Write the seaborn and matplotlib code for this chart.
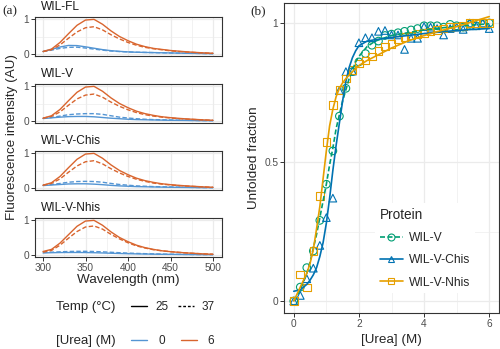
import numpy as np
import pandas as pd
import matplotlib
matplotlib.use("Agg")
import matplotlib.pyplot as plt
from matplotlib.lines import Line2D
from matplotlib.ticker import FixedLocator
import seaborn as sns

sns.set_theme(style="white")
plt.rcParams['font.family'] = ['Liberation Sans', 'DejaVu Sans']

# ---------------- Data: panel (a) spectra ----------------
wavelength = [300, 310, 320, 330, 340, 350, 360, 370, 380, 390, 400,
              410, 420, 430, 440, 450, 460, 470, 480, 490, 500]

fl_0_25 = [0.07, 0.13, 0.20, 0.245, 0.24, 0.205, 0.165, 0.125, 0.095, 0.075, 0.06,
           0.05, 0.045, 0.04, 0.035, 0.03, 0.025, 0.02, 0.017, 0.013, 0.01]
fl_0_37 = [0.07, 0.11, 0.16, 0.19, 0.195, 0.17, 0.14, 0.11, 0.085, 0.07, 0.06,
           0.05, 0.045, 0.04, 0.035, 0.03, 0.025, 0.02, 0.017, 0.013, 0.01]
fl_6_25 = [0.07, 0.14, 0.33, 0.58, 0.82, 0.97, 0.99, 0.85, 0.66, 0.50, 0.38,
           0.28, 0.21, 0.16, 0.13, 0.10, 0.08, 0.06, 0.045, 0.03, 0.02]
fl_6_37 = [0.07, 0.12, 0.26, 0.45, 0.63, 0.75, 0.78, 0.69, 0.55, 0.43, 0.33,
           0.25, 0.19, 0.15, 0.12, 0.09, 0.07, 0.055, 0.04, 0.03, 0.02]

v_0_25 = [0.07, 0.09, 0.11, 0.125, 0.13, 0.13, 0.12, 0.10, 0.08, 0.065, 0.05,
          0.04, 0.035, 0.03, 0.025, 0.02, 0.018, 0.015, 0.012, 0.01, 0.01]
v_0_37 = [0.08, 0.10, 0.14, 0.18, 0.20, 0.21, 0.21, 0.19, 0.15, 0.11, 0.085,
          0.065, 0.05, 0.04, 0.035, 0.03, 0.025, 0.02, 0.015, 0.012, 0.01]
v_6_25 = [0.08, 0.15, 0.33, 0.58, 0.82, 0.97, 0.99, 0.85, 0.66, 0.50, 0.38,
          0.28, 0.21, 0.16, 0.12, 0.095, 0.075, 0.058, 0.044, 0.03, 0.02]
v_6_37 = [0.08, 0.13, 0.26, 0.45, 0.63, 0.74, 0.77, 0.68, 0.54, 0.42, 0.32,
          0.24, 0.18, 0.14, 0.11, 0.085, 0.067, 0.052, 0.04, 0.03, 0.02]

chis_0_25 = [0.07, 0.085, 0.10, 0.115, 0.12, 0.12, 0.11, 0.095, 0.075, 0.06, 0.05,
             0.04, 0.035, 0.03, 0.025, 0.02, 0.018, 0.015, 0.012, 0.01, 0.01]
chis_0_37 = [0.08, 0.10, 0.13, 0.165, 0.185, 0.19, 0.185, 0.165, 0.13, 0.10, 0.08,
             0.06, 0.05, 0.04, 0.035, 0.03, 0.025, 0.02, 0.015, 0.012, 0.01]
chis_6_25 = [0.08, 0.15, 0.33, 0.58, 0.82, 0.97, 0.99, 0.85, 0.66, 0.50, 0.38,
             0.28, 0.21, 0.16, 0.12, 0.095, 0.075, 0.058, 0.044, 0.03, 0.02]
chis_6_37 = [0.08, 0.13, 0.26, 0.45, 0.63, 0.75, 0.78, 0.69, 0.55, 0.43, 0.33,
             0.25, 0.19, 0.14, 0.11, 0.087, 0.068, 0.053, 0.04, 0.03, 0.02]

nhis_0_25 = [0.06, 0.065, 0.07, 0.072, 0.072, 0.07, 0.065, 0.058, 0.05, 0.043, 0.037,
             0.032, 0.028, 0.024, 0.02, 0.018, 0.016, 0.014, 0.012, 0.01, 0.01]
nhis_0_37 = [0.07, 0.08, 0.09, 0.10, 0.105, 0.105, 0.10, 0.09, 0.078, 0.065, 0.055,
             0.045, 0.038, 0.032, 0.027, 0.022, 0.019, 0.016, 0.013, 0.011, 0.01]
nhis_6_25 = [0.10, 0.16, 0.34, 0.58, 0.82, 0.97, 0.99, 0.85, 0.66, 0.50, 0.38,
             0.28, 0.21, 0.16, 0.12, 0.095, 0.075, 0.058, 0.044, 0.03, 0.02]
nhis_6_37 = [0.08, 0.13, 0.28, 0.48, 0.67, 0.80, 0.83, 0.74, 0.59, 0.46, 0.35,
             0.26, 0.20, 0.15, 0.12, 0.095, 0.075, 0.057, 0.043, 0.032, 0.022]

proteins_a = ["WIL-FL", "WIL-V", "WIL-V-Chis", "WIL-V-Nhis"]
spectra = {
    "WIL-FL": {("0", "25"): fl_0_25, ("0", "37"): fl_0_37, ("6", "25"): fl_6_25, ("6", "37"): fl_6_37},
    "WIL-V": {("0", "25"): v_0_25, ("0", "37"): v_0_37, ("6", "25"): v_6_25, ("6", "37"): v_6_37},
    "WIL-V-Chis": {("0", "25"): chis_0_25, ("0", "37"): chis_0_37, ("6", "25"): chis_6_25, ("6", "37"): chis_6_37},
    "WIL-V-Nhis": {("0", "25"): nhis_0_25, ("0", "37"): nhis_0_37, ("6", "25"): nhis_6_25, ("6", "37"): nhis_6_37},
}

# ---------------- Data: panel (b) denaturation ----------------
urea_pts = [0.0, 0.2, 0.4, 0.6, 0.8, 1.0, 1.2, 1.4, 1.6, 1.8, 2.0, 2.2, 2.4, 2.6, 2.8, 3.0,
            3.2, 3.4, 3.6, 3.8, 4.0, 4.2, 4.4, 4.6, 4.8, 5.0, 5.2, 5.4, 5.6, 5.8, 6.0]
wilv_pts = [0.0, 0.05, 0.12, 0.18, 0.29, 0.42, 0.54, 0.665, 0.765, 0.825, 0.86, 0.89, 0.92, 0.935,
            0.955, 0.96, 0.965, 0.97, 0.975, 0.98, 0.99, 0.99, 0.99, 0.985, 0.995, 0.99, 0.985,
            0.995, 0.99, 0.995, 1.0]
chis_pts = [0.0, 0.02, 0.08, 0.118, 0.20, 0.30, 0.37, 0.757, 0.825, 0.827, 0.929, 0.947, 0.947,
            0.97, 0.973, 0.957, 0.957, 0.905, 0.945, 0.945, 0.987, 0.985, 0.98, 0.957, 0.98,
            0.985, 0.977, 1.0, 0.99, 1.0, 0.98]
nhis_pts = [0.0, 0.096, 0.048, 0.18, 0.377, 0.573, 0.705, 0.76, 0.80, 0.83, 0.855, 0.865, 0.88,
            0.90, 0.915, 0.925, 0.94, 0.95, 0.955, 0.96, 0.963, 0.97, 0.975, 0.98, 0.985, 0.987,
            0.99, 1.0, 1.0, 1.0, 1.0]

fit_urea = [0.0, 0.2, 0.4, 0.5, 0.6, 0.7, 0.8, 0.9, 1.0, 1.1, 1.2, 1.3, 1.4, 1.5, 1.6, 1.7,
            1.8, 1.9, 2.0, 2.25, 2.5, 3.0, 3.5, 4.0, 4.5, 5.0, 5.5, 6.0]
wilv_fit = [0.0, 0.04, 0.10, 0.14, 0.19, 0.24, 0.30, 0.36, 0.42, 0.49, 0.55, 0.62, 0.67, 0.72,
            0.76, 0.80, 0.83, 0.86, 0.88, 0.915, 0.935, 0.955, 0.965, 0.975, 0.982, 0.988,
            0.993, 0.997]
chis_fit = [0.035, 0.04, 0.06, 0.075, 0.094, 0.12, 0.16, 0.21, 0.28, 0.37, 0.47, 0.56, 0.64,
            0.72, 0.79, 0.84, 0.875, 0.90, 0.918, 0.935, 0.94, 0.948, 0.955, 0.962, 0.968,
            0.973, 0.977, 0.98]
nhis_fit = [0.0, 0.05, 0.10, 0.135, 0.185, 0.26, 0.34, 0.44, 0.54, 0.63, 0.69, 0.735, 0.765,
            0.785, 0.80, 0.813, 0.825, 0.836, 0.847, 0.865, 0.88, 0.91, 0.935, 0.955, 0.972,
            0.987, 1.005, 1.023]

proteins_b = ["WIL-V", "WIL-V-Chis", "WIL-V-Nhis"]

# ---------------- Styling constants ----------------
BLUE_A, ORANGE_A = "#5495D3", "#D9652E"
COLS_B = {"WIL-V": "#009E73", "WIL-V-Chis": "#0072B2", "WIL-V-Nhis": "#E69F00"}
MARKERS_B = {"WIL-V": "o", "WIL-V-Chis": "^", "WIL-V-Nhis": "s"}
GRID = "#EBEBEB"
BORDER = "#333333"
TICKLAB = "#4D4D4D"

W, H = 500, 349


def fx(px):
    return px / W


def fy(py):
    return 1 - py / H


def style_ax(ax):
    ax.set_facecolor("white")
    for s in ax.spines.values():
        s.set_color(BORDER)
        s.set_linewidth(0.8)
        s.set_visible(True)
    ax.grid(which="major", color=GRID, linewidth=0.9)
    ax.grid(which="minor", color=GRID, linewidth=0.45)
    ax.set_axisbelow(True)
    ax.tick_params(which="major", length=2.6, width=0.7, color=BORDER,
                   labelsize=7.3, labelcolor=TICKLAB, pad=1.5,
                   bottom=True, left=True)
    ax.tick_params(which="minor", length=0)


# long data frame for panel (a)
rows = []
for p in proteins_a:
    for (u, t), vals in spectra[p].items():
        for w, v in zip(wavelength, vals):
            rows.append({"protein": p, "wl": w, "urea": u, "temp": t, "I": v})
df_a = pd.DataFrame(rows)

fig = plt.figure(figsize=(W / 100, H / 100), dpi=100)

panel_tops = [17, 84, 151, 218]
ph = 39
for i, (p, top) in enumerate(zip(proteins_a, panel_tops)):
    ax = fig.add_axes([fx(34.5), fy(top + ph), fx(187), ph / H])
    sub = df_a[df_a["protein"] == p]
    sns.lineplot(data=sub, x="wl", y="I", hue="urea", style="temp",
                 hue_order=["0", "6"], style_order=["25", "37"],
                 palette={"0": BLUE_A, "6": ORANGE_A},
                 dashes={"25": "", "37": (3.2, 1.6)},
                 linewidth=1.0, estimator=None, sort=False, legend=False, ax=ax)
    style_ax(ax)
    ax.set_xlim(290, 510)
    ax.set_ylim(-2 / 35, 1 + 2 / 35)
    ax.xaxis.set_major_locator(FixedLocator([300, 350, 400, 450, 500]))
    ax.xaxis.set_minor_locator(FixedLocator([325, 375, 425, 475]))
    ax.yaxis.set_major_locator(FixedLocator([0, 1]))
    ax.yaxis.set_minor_locator(FixedLocator([0.5]))
    ax.set_yticklabels(["0", "1"])
    ax.set_xlabel("")
    ax.set_ylabel("")
    if i < 3:
        ax.tick_params(axis="x", which="both", bottom=False, labelbottom=False)
    else:
        ax.set_xticklabels(["300", "350", "400", "450", "500"])
    ax.text(6.5 / 187, 1 + 10 / ph, p, transform=ax.transAxes, ha="left",
            va="center", fontsize=8.6, color="#1A1A1A")

fig.text(fx(128), fy(280), "Wavelength (nm)", ha="center", va="center", fontsize=9.7)
fig.text(fx(12), fy(137), "Fluorescence intensity (AU)", rotation=90,
         ha="center", va="center", fontsize=9.7)
fig.text(fx(2), fy(11), "(a)", ha="left", va="center", fontsize=9.5,
         family=["Liberation Serif", "DejaVu Serif"])

# legends of panel (a)
row1_y, row2_y = 307, 341
fig.text(fx(56), fy(row1_y), "Temp (°C)", ha="left", va="center", fontsize=9.5)
h_temp = [Line2D([], [], color="black", lw=1.0, ls="-"),
          Line2D([], [], color="black", lw=1.0, ls=(0, (2, 1.4)))]
leg1 = fig.legend(h_temp, ["25", "37"], ncol=2, loc="center left",
                  bbox_to_anchor=(fx(125), fy(row1_y)), frameon=False, fontsize=8.5,
                  handlelength=1.4, handletextpad=0.65, columnspacing=0.8, borderpad=0)
fig.text(fx(56), fy(row2_y), "[Urea] (M)", ha="left", va="center", fontsize=9.5)
h_urea = [Line2D([], [], color=BLUE_A, lw=1.0), Line2D([], [], color=ORANGE_A, lw=1.0)]
leg2 = fig.legend(h_urea, ["0", "6"], ncol=2, loc="center left",
                  bbox_to_anchor=(fx(125), fy(row2_y)), frameon=False, fontsize=8.5,
                  handlelength=1.4, handletextpad=0.9, columnspacing=1.35, borderpad=0)

# ---------------- panel (b) ----------------
pts_rows = []
for p, vals in zip(proteins_b, [wilv_pts, chis_pts, nhis_pts]):
    for u, v in zip(urea_pts, vals):
        pts_rows.append({"Protein": p, "urea": u, "frac": v})
df_pts = pd.DataFrame(pts_rows)
fit_rows = []
for p, vals in zip(proteins_b, [wilv_fit, chis_fit, nhis_fit]):
    for u, v in zip(fit_urea, vals):
        fit_rows.append({"Protein": p, "urea": u, "frac": v})
df_fit = pd.DataFrame(fit_rows)

axb = fig.add_axes([fx(284), fy(313), fx(215), 310 / H])
for p in proteins_b:
    sns.scatterplot(data=df_pts[df_pts["Protein"] == p], x="urea", y="frac",
                    marker=MARKERS_B[p], s=30, color=COLS_B[p], legend=False, ax=axb)
    coll = axb.collections[-1]
    coll.set_facecolors("none")
    coll.set_edgecolors(COLS_B[p])
    coll.set_linewidths(0.8)
sns.lineplot(data=df_fit, x="urea", y="frac", hue="Protein", style="Protein",
             hue_order=proteins_b, style_order=proteins_b, palette=COLS_B,
             dashes={"WIL-V": (3, 1.5), "WIL-V-Chis": "", "WIL-V-Nhis": ""},
             linewidth=1.2, estimator=None, sort=False, legend=False, ax=axb)
style_ax(axb)
axb.set_xlim(-0.3, 6.3)
axb.set_ylim(-12 / 278, 1 + 20 / 278)
axb.xaxis.set_major_locator(FixedLocator([0, 2, 4, 6]))
axb.xaxis.set_minor_locator(FixedLocator([1, 3, 5]))
axb.yaxis.set_major_locator(FixedLocator([0, 0.5, 1]))
axb.yaxis.set_minor_locator(FixedLocator([0.25, 0.75]))
axb.set_xticklabels(["0", "2", "4", "6"])
axb.set_yticklabels(["0", "0.5", "1"])
axb.set_xlabel("[Urea] (M)", fontsize=9.7, labelpad=4)
axb.set_ylabel("Unfolded fraction", fontsize=9.7, labelpad=3)

h_b = [Line2D([], [], color=COLS_B[p], lw=1.2,
              ls=((0, (3, 1.5)) if p == "WIL-V" else "-"),
              marker=MARKERS_B[p], ms=5, mfc="none", mec=COLS_B[p], mew=0.8)
       for p in proteins_b]
legb = axb.legend(h_b, proteins_b, title="Protein", loc="upper left",
                  bbox_to_anchor=((375 - 284) / 215, (313 - 203) / 310),
                  frameon=True, fontsize=8.7, title_fontsize=9.8, alignment="left",
                  handlelength=1.9, handletextpad=0.5, labelspacing=0.85,
                  borderpad=0.4, borderaxespad=0)
legb.get_frame().set_facecolor("white")
legb.get_frame().set_edgecolor("none")
legb.get_frame().set_alpha(1)
legb.get_frame().set_boxstyle("square", pad=0)

fig.text(fx(250), fy(11), "(b)", ha="left", va="center", fontsize=9.5,
         family=["Liberation Serif", "DejaVu Serif"])

fig.savefig("out.png", dpi=100)
